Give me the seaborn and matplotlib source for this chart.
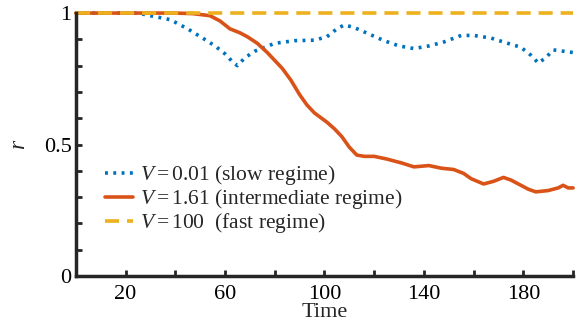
import numpy as np
import pandas as pd
import matplotlib
matplotlib.use("Agg")
import matplotlib.pyplot as plt
import seaborn as sns

# ---- data ----
t_slow = [0, 10, 20, 25, 30, 38, 45, 51, 56, 60, 63, 65, 68, 72, 76, 80, 88, 96, 101, 105, 108,
          112, 118, 124, 130, 136, 142, 148, 155, 160, 167, 172, 179, 183, 186, 189, 192, 196, 200]
r_slow = [1.0, 1.0, 1.0, 1.0, 0.99, 0.975, 0.94, 0.905, 0.875, 0.845, 0.815, 0.80, 0.83, 0.855,
          0.87, 0.885, 0.895, 0.897, 0.91, 0.94, 0.955, 0.945, 0.92, 0.895, 0.875, 0.865, 0.875,
          0.89, 0.915, 0.915, 0.905, 0.89, 0.87, 0.84, 0.81, 0.83, 0.86, 0.855, 0.85]

t_mid = [0, 10, 20, 30, 40, 47, 54, 58, 62, 66, 69, 73, 77, 80, 83, 86.5, 90, 93, 96, 101, 104,
         107, 110, 113, 116, 120, 125, 131, 136, 142, 147, 152, 156, 159, 164, 168, 172, 175,
         178, 182, 185, 190, 194, 196, 198, 200]
r_mid = [1.0, 1.0, 1.0, 1.0, 1.0, 0.998, 0.99, 0.97, 0.94, 0.925, 0.91, 0.885, 0.85, 0.82, 0.79,
         0.745, 0.69, 0.65, 0.62, 0.585, 0.56, 0.53, 0.49, 0.46, 0.455, 0.455, 0.445, 0.43,
         0.415, 0.42, 0.41, 0.405, 0.39, 0.37, 0.35, 0.36, 0.375, 0.365, 0.35, 0.33, 0.32,
         0.325, 0.335, 0.345, 0.335, 0.335]

t_fast = [0, 50, 100, 150, 200]
r_fast = [1.0, 1.0, 1.0, 1.0, 1.0]

labels = [r"$V=0.01$ (slow regime)",
          r"$V=1.61$ (intermediate regime)",
          r"$V=100$  (fast regime)"]
colors = ["#0072BD", "#D95319", "#EDB120"]

x_ticks = [20, 40, 60, 80, 100, 120, 140, 160, 180, 200]
x_ticklabels = ["20", "", "60", "", "100", "", "140", "", "180", ""]
y_ticks = [0, 0.1, 0.2, 0.3, 0.4, 0.5, 0.6, 0.7, 0.8, 0.9, 1.0]
y_ticklabels = ["0", "", "", "", "", "0.5", "", "", "", "", "1"]

# ---- style ----
sns.set_theme(style="white")
plt.rcParams["font.family"] = ["Liberation Serif", "DejaVu Serif"]
plt.rcParams["mathtext.fontset"] = "custom"
plt.rcParams["mathtext.rm"] = "Liberation Serif"
plt.rcParams["mathtext.it"] = "Liberation Serif:italic"

fig = plt.figure(figsize=(5.83, 3.27), dpi=100)
ax = fig.add_axes([0.130, 0.156, 0.853, 0.804])

df_slow = pd.DataFrame({"t": t_slow, "r": r_slow})
df_mid = pd.DataFrame({"t": t_mid, "r": r_mid})
df_fast = pd.DataFrame({"t": t_fast, "r": r_fast})

sns.lineplot(data=df_slow, x="t", y="r", ax=ax, color=colors[0], lw=2.6,
             linestyle=(0, (0.8, 1.5)), label=labels[0], clip_on=False)
sns.lineplot(data=df_mid, x="t", y="r", ax=ax, color=colors[1], lw=2.6,
             label=labels[1], clip_on=False)
sns.lineplot(data=df_fast, x="t", y="r", ax=ax, color=colors[2], lw=2.6,
             linestyle=(0, (3.9, 2.2)), label=labels[2], clip_on=False)

ax.set_xlim(0, 200)
ax.set_ylim(0, 1)
ax.set_xticks(x_ticks)
ax.set_xticklabels(x_ticklabels)
ax.set_yticks(y_ticks)
ax.set_yticklabels(y_ticklabels)
ax.tick_params(bottom=True, left=True, direction="in", length=4, width=2,
               color="#262626", labelsize=16, labelcolor="black", pad=3)
ax.tick_params(axis="x", pad=6.5)
for s in ["top", "right"]:
    ax.spines[s].set_visible(False)
for s in ["left", "bottom"]:
    ax.spines[s].set_linewidth(2.5)
    ax.spines[s].set_color("#262626")

ax.set_xlabel("Time", fontsize=16, labelpad=-1)
ax.set_ylabel(r"$r$", fontsize=17, labelpad=10)

leg = ax.legend(loc="center left", bbox_to_anchor=(0.058, 0.292), frameon=False,
                fontsize=15.5, handlelength=1.3, handletextpad=0.33, labelspacing=0.0,
                borderaxespad=0, borderpad=0)

fig.savefig("out.png", dpi=100)
